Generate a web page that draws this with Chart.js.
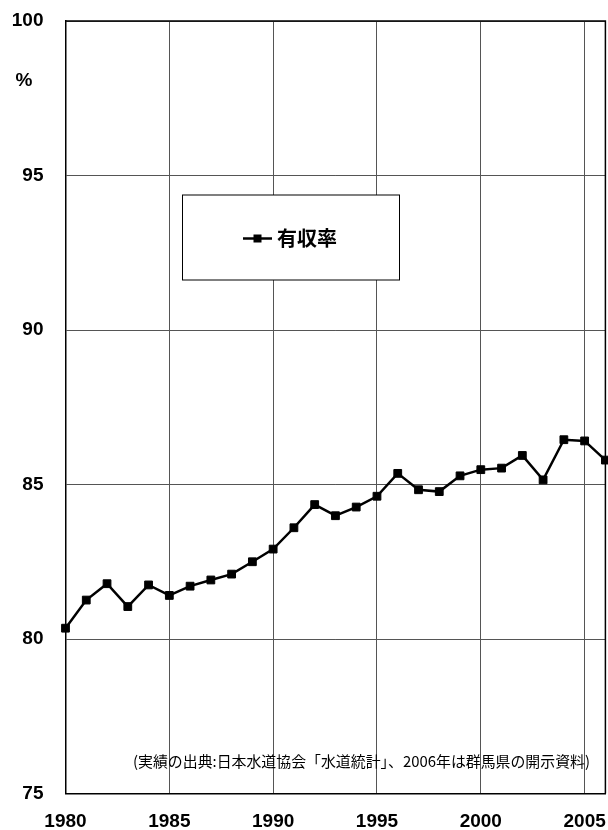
<!DOCTYPE html>
<html>
<head>
<meta charset="utf-8">
<script src="https://cdn.jsdelivr.net/npm/chart.js@4.4.1/dist/chart.umd.min.js"></script>
<style>
  html, body { margin: 0; padding: 0; background: #fff; }
  #wrap { width: 608px; height: 830px; }
</style>
</head>
<body>
<div id="wrap"><canvas id="c" width="608" height="830"></canvas></div>
<script>
// 有収率 (revenue water ratio), %, by fiscal year
const years = [1980, 1981, 1982, 1983, 1984, 1985, 1986, 1987, 1988, 1989,
               1990, 1991, 1992, 1993, 1994, 1995, 1996, 1997, 1998, 1999,
               2000, 2001, 2002, 2003, 2004, 2005, 2006];
const rates = [80.35, 81.26, 81.79, 81.05, 81.75, 81.41, 81.71, 81.91, 82.10, 82.50,
               82.91, 83.60, 84.35, 83.99, 84.27, 84.62, 85.36, 84.83, 84.77, 85.28,
               85.48, 85.53, 85.94, 85.15, 86.45, 86.41, 85.79];

const xTickYears = [1980, 1985, 1990, 1995, 2000, 2005, 2006];
const xLabelYears = [1980, 1985, 1990, 1995, 2000, 2005];
const yTickValues = [75, 80, 85, 90, 95, 100];

const seriesLabel = '有収率';
const unitLabel = '%';
const sourceNote = '(実績の出典:日本水道協会「水道統計」、2006年は群馬県の開示資料)';

const LATIN = '"Liberation Sans", Arial, sans-serif';
const CJK = '"Noto Sans CJK JP", "Noto Sans", sans-serif';

// keep the plot area exactly where the layout padding puts it
function noLabelOverhang(scale) {
  scale.paddingTop = 0;
  scale.paddingBottom = 0;
  scale.paddingLeft = 0;
  scale.paddingRight = 0;
}

// Frame, unit label, boxed legend and source note
const decorations = {
  id: 'decorations',
  beforeDatasetsDraw(chart) {
    const { ctx, chartArea: a } = chart;
    ctx.save();
    ctx.strokeStyle = '#000';
    ctx.lineWidth = 1.5;
    ctx.beginPath();
    ctx.moveTo(a.left, a.top);
    ctx.lineTo(a.right, a.top);
    ctx.lineTo(a.right, a.bottom);
    ctx.stroke();
    ctx.restore();
  },
  afterDraw(chart) {
    const { ctx } = chart;
    const ds = chart.data.datasets[0];
    ctx.save();

    // unit
    ctx.fillStyle = '#000';
    ctx.font = 'bold 19px ' + LATIN;
    ctx.textAlign = 'center';
    ctx.textBaseline = 'middle';
    ctx.fillText(unitLabel, 24, 81);

    // legend box
    const bx = 182.5, by = 195, bw = 217, bh = 85;
    ctx.fillStyle = '#fff';
    ctx.fillRect(bx, by, bw, bh);
    ctx.strokeStyle = '#000';
    ctx.lineWidth = 1;
    ctx.strokeRect(bx, by, bw, bh);

    const ly = 238.5;
    ctx.strokeStyle = ds.borderColor;
    ctx.lineWidth = ds.borderWidth;
    ctx.beginPath();
    ctx.moveTo(243, ly);
    ctx.lineTo(272, ly);
    ctx.stroke();
    ctx.fillStyle = ds.pointBackgroundColor;
    ctx.fillRect(253.5, ly - 4, 8, 8);

    ctx.fillStyle = '#000';
    ctx.font = 'bold 20px ' + CJK;
    ctx.textAlign = 'left';
    ctx.textBaseline = 'middle';
    ctx.fillText(ds.label, 277, ly);

    // source note
    ctx.font = '15px ' + CJK;
    ctx.textAlign = 'left';
    ctx.textBaseline = 'middle';
    ctx.fillText(sourceNote, 133, 761, 457);

    ctx.restore();
  }
};

new Chart(document.getElementById('c'), {
  type: 'line',
  data: {
    datasets: [{
      label: seriesLabel,
      data: years.map((y, i) => ({ x: y, y: rates[i] })),
      borderColor: '#000',
      backgroundColor: '#000',
      borderWidth: 2.5,
      tension: 0,
      pointStyle: 'rect',
      pointRadius: 5.5,
      pointBackgroundColor: '#000',
      pointBorderColor: '#000',
      pointBorderWidth: 1,
      clip: false
    }]
  },
  options: {
    responsive: false,
    animation: false,
    devicePixelRatio: 1,
    layout: { autoPadding: false, padding: { top: 21, right: 2.6, left: 0, bottom: 0 } },
    plugins: { legend: { display: false }, tooltip: { enabled: false } },
    scales: {
      x: {
        type: 'linear',
        min: 1980,
        max: 2006,
        afterBuildTicks(scale) { scale.ticks = xTickYears.map(v => ({ value: v })); },
        afterFit(scale) { scale.height = 36.5; noLabelOverhang(scale); },
        grid: { color: '#555', lineWidth: 1, drawTicks: false },
        border: { color: '#000', width: 1.5 },
        ticks: {
          autoSkip: false,
          maxRotation: 0,
          padding: 17,
          color: '#000',
          font: { family: LATIN, size: 19, weight: 'bold' },
          callback: v => (xLabelYears.includes(v) ? String(v) : '')
        }
      },
      y: {
        min: 75,
        max: 100,
        afterBuildTicks(scale) { scale.ticks = yTickValues.map(v => ({ value: v })); },
        afterFit(scale) { scale.width = 65.5; noLabelOverhang(scale); },
        grid: { color: '#555', lineWidth: 1, drawTicks: false },
        border: { color: '#000', width: 1.5 },
        ticks: {
          padding: 22,
          color: '#000',
          font: { family: LATIN, size: 19, weight: 'bold' }
        }
      }
    }
  },
  plugins: [decorations]
});
</script>
</body>
</html>
